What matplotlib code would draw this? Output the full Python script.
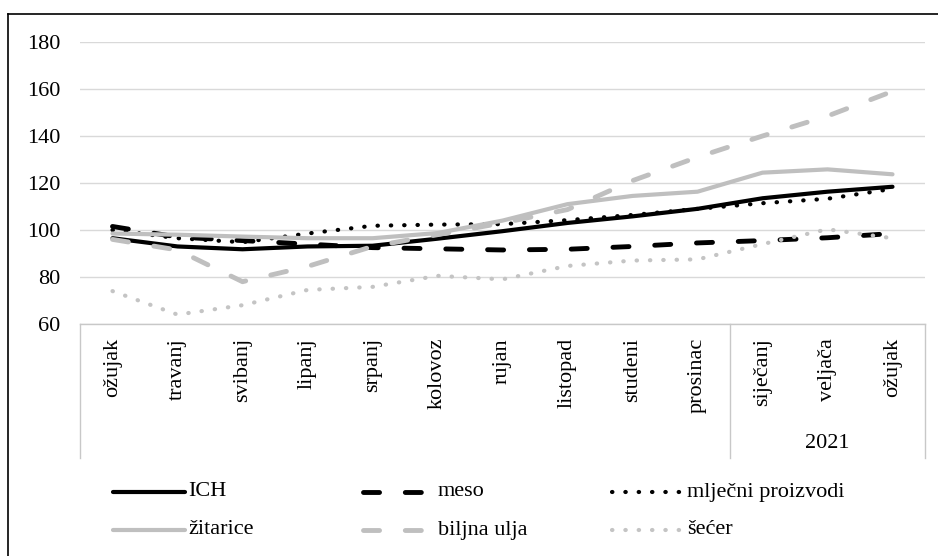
import numpy as np
from matplotlib import pyplot as plt
from matplotlib.lines import Line2D

plt.rcParams['font.family'] = ['Liberation Serif', 'DejaVu Serif']

months = ['ožujak', 'travanj', 'svibanj', 'lipanj', 'srpanj', 'kolovoz', 'rujan',
          'listopad', 'studeni', 'prosinac', 'siječanj', 'veljača', 'ožujak']
year_label = '2021'

ich = [96.5, 93, 91.8, 93, 93.3, 96.3, 99.5, 103, 105.8, 109, 113.5, 116.3, 118.4]
meso = [101.5, 97, 95.5, 94, 92.5, 92, 91.5, 91.8, 93, 94.5, 95.5, 96.7, 98.5]
mlijecni = [100, 96.5, 94.8, 98.5, 101.8, 102.3, 102.5, 104.2, 106.4, 109, 111.4, 113.3, 117.5]
zitarice = [98.5, 98, 97.2, 96.5, 96.5, 98.7, 104, 111, 114.5, 116.3, 124.4, 125.8, 123.7]
biljna_ulja = [96, 91.5, 78, 84.5, 93, 98, 103, 108.7, 121, 131, 140, 148.5, 159]
secer = [74, 64, 68, 74.5, 75.8, 80.5, 79, 84.7, 87, 87.5, 94, 100.3, 96.5]

W, H = 938, 556
GREY = '#BFBFBF'
FS = 16
FAM = ['Liberation Serif', 'DejaVu Serif']

fig = plt.figure(figsize=(W / 100, H / 100), dpi=100)
ax = fig.add_axes([80 / W, 1 - 324 / H, 845 / W, 282 / H])

x = np.arange(len(months))
dash = (0, (3.3, 5.3))
dot = (0, (0.1, 3.1))

series = [
    ('ICH', ich, dict(color='black', lw=3, ls='-')),
    ('meso', meso, dict(color='black', lw=3.5, ls=dash, dash_capstyle='round')),
    ('mlječni proizvodi', mlijecni, dict(color='black', lw=3, ls=dot, dash_capstyle='round')),
    ('žitarice', zitarice, dict(color=GREY, lw=3, ls='-')),
    ('biljna ulja', biljna_ulja, dict(color=GREY, lw=3.5, ls=dash, dash_capstyle='round')),
    ('šećer', secer, dict(color='#C4C4C4', lw=3, ls=dot, dash_capstyle='round')),
]
for name, vals, st in series:
    ax.plot(x, vals, solid_capstyle='round', **st)

ax.set_xlim(-0.5, len(months) - 0.5)
ax.set_ylim(60, 180)
ax.set_yticks(range(60, 181, 20))
ax.yaxis.grid(True, color='#D9D9D9', lw=1)
ax.set_axisbelow(True)
for s in ax.spines.values():
    s.set_visible(False)
ax.tick_params(axis='y', length=0, pad=14, labelsize=FS)
ax.set_xticks(x)
ax.set_xticklabels(months, rotation=90, va='top', ha='center', fontsize=FS)
ax.tick_params(axis='x', length=0, pad=10)
for lab in ax.get_xticklabels() + ax.get_yticklabels():
    lab.set_family(FAM)

# category box under the axis (top line, left/right borders, year separator)
tr = ax.get_xaxis_transform()
depth = -(458 - 324) / 282
ax.plot([-0.5, len(months) - 0.5], [0, 0], transform=tr, color='#C8C8C8', lw=1, clip_on=False)
for xv in [-0.5, 9.5, len(months) - 0.5]:
    ax.plot([xv, xv], [0, depth], transform=tr, color='#C8C8C8', lw=1, clip_on=False)
ax.text(11, -(443 - 324) / 282, year_label, transform=tr, ha='center', va='center',
        fontsize=FS, family=FAM)

# legend, 3 columns x 2 rows
col_x = [113, 363, 612]
row_y = [492, 530]
for i, (name, vals, st) in enumerate(series):
    cx = col_x[i % 3]
    cy = row_y[i // 3]
    fy = 1 - cy / H
    fig.add_artist(Line2D([cx / W, (cx + 72) / W], [fy, fy], transform=fig.transFigure,
                          solid_capstyle='round', **st))
    fig.text((cx + 75) / W, fy, name, ha='left', va='center', fontsize=FS, family=FAM)

# outer frame (only left and top edges visible)
fy = 1 - 14 / H
fx = 8 / W
fig.add_artist(Line2D([fx, fx], [0, fy], transform=fig.transFigure, color='black', lw=1.2))
fig.add_artist(Line2D([fx, 1], [fy, fy], transform=fig.transFigure, color='black', lw=1.2))

fig.savefig('out.png', dpi=100)
